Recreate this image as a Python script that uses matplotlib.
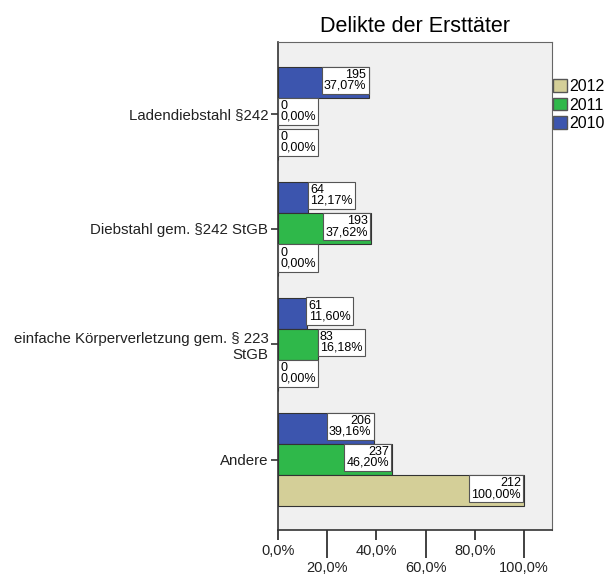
import matplotlib.pyplot as plt
import numpy as np
from matplotlib.patches import Patch
from matplotlib.ticker import FixedLocator

plt.rcParams['font.family'] = ['Liberation Sans', 'DejaVu Sans']

# categories from top to bottom
categories = ["Ladendiebstahl §242", "Diebstahl gem. §242 StGB",
              "einfache Körperverletzung gem. § 223\nStGB", "Andere"]
years = ["2010", "2011", "2012"]

# counts and column percentages per year
counts = {
    "2010": [195, 64, 61, 206],
    "2011": [0, 193, 83, 237],
    "2012": [0, 0, 0, 212],
}
percents = {
    "2010": [37.07, 12.17, 11.60, 39.16],
    "2011": [0.00, 37.62, 16.18, 46.20],
    "2012": [0.00, 0.00, 0.00, 100.00],
}
colors = {"2010": "#3c55ae", "2011": "#2fb84a", "2012": "#d4cf98"}

fig = plt.figure(figsize=(6.06, 5.75), dpi=100)
ax = fig.add_axes([278 / 606, 1 - 530 / 575, 274 / 606, 488 / 575])
ax.set_facecolor("#f0f0f0")

y = np.arange(len(categories))
h = 0.27
offsets = {"2010": -h, "2011": 0.0, "2012": h}

for yr in years:
    vals = percents[yr]
    ax.barh(y + offsets[yr], vals, height=h, color=colors[yr],
            edgecolor="#333333", linewidth=0.8, zorder=2)
    for i, v in enumerate(vals):
        txt = f"{counts[yr][i]}\n{v:.2f}%".replace(".", ",")
        # box inside the bar if it fits, otherwise just after the bar end
        if v > 20:
            ax.annotate(txt, xy=(v, y[i] + offsets[yr]), xytext=(-2, 1.5),
                        textcoords="offset points", ha="right", va="center",
                        multialignment="right", fontsize=9, linespacing=0.85,
                        bbox=dict(boxstyle="square,pad=0.18", fc="white",
                                  ec="#555555", lw=0.8), zorder=3)
        else:
            ax.annotate(txt, xy=(v, y[i] + offsets[yr]), xytext=(1.5, 1.5),
                        textcoords="offset points", ha="left", va="center",
                        multialignment="left", fontsize=9, linespacing=0.85,
                        bbox=dict(boxstyle="square,pad=0.18", fc="white",
                                  ec="#555555", lw=0.8), zorder=3)

ax.set_ylim(3.61, -0.62)
ax.set_xlim(0, 111.4)
ax.set_yticks(y)
ax.set_yticklabels(categories, fontsize=10.8, color="#222222")
ax.tick_params(axis="y", length=5, width=1.2, color="#333333", pad=2)

# staggered x tick labels
ax.xaxis.set_major_locator(FixedLocator([0, 40, 80]))
ax.xaxis.set_minor_locator(FixedLocator([20, 60, 100]))
ax.set_xticklabels(["0,0%", "40,0%", "80,0%"])
ax.set_xticklabels(["20,0%", "60,0%", "100,0%"], minor=True)
ax.tick_params(axis="x", which="major", length=7, width=1.3, color="#333333",
               pad=3, labelsize=10.5, labelcolor="#222222")
ax.tick_params(axis="x", which="minor", length=20, width=1.3, color="#333333",
               pad=2, labelsize=10.5, labelcolor="#222222")

for side in ["top", "right"]:
    ax.spines[side].set_color("#666666")
for side in ["left", "bottom"]:
    ax.spines[side].set_color("#333333")
    ax.spines[side].set_linewidth(1.2)

ax.set_title("Delikte der Ersttäter", fontsize=15.5, pad=7)

handles = [Patch(facecolor=colors[yr], edgecolor="#555555", label=yr)
           for yr in ["2012", "2011", "2010"]]
fig.legend(handles=handles, loc="upper left", bbox_to_anchor=(553 / 606, 1 - 79 / 575),
           frameon=False, fontsize=11.5, handlelength=0.85, handleheight=0.85,
           handletextpad=0.15, labelspacing=0.22, borderaxespad=0, borderpad=0)

fig.savefig("out.png", dpi=100)
